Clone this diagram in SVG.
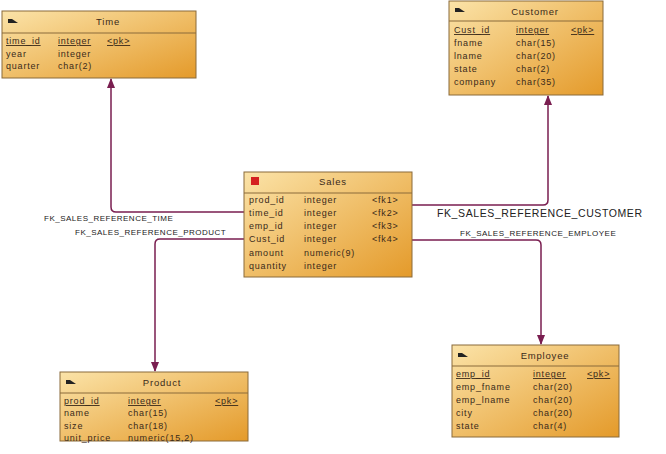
<svg xmlns="http://www.w3.org/2000/svg" width="666" height="454" viewBox="0 0 666 454">
<style>
.box{fill:url(#g);stroke:#8a6a3a;stroke-width:1}
.hl{stroke:#8a6a3a;stroke-width:1}
text{font-family:"Liberation Sans",Arial,sans-serif;font-size:9px;fill:#3a2a1a;letter-spacing:0.8px}
.t{font-size:9.5px;text-anchor:middle}
.u{text-decoration:underline}
.c{fill:none;stroke:#7a1e50;stroke-width:1.5}
.l{font-size:8px;fill:#222;letter-spacing:0.5px}
</style>
<defs>
<linearGradient id="g" x1="0" y1="0" x2="1" y2="1">
<stop offset="0" stop-color="#fbe3a8"/><stop offset="1" stop-color="#e49a2a"/>
</linearGradient>
<marker id="a" markerWidth="10" markerHeight="8" refX="9" refY="4" orient="auto" markerUnits="userSpaceOnUse" viewBox="0 0 10 8">
<path d="M0,0 L10,4 L0,8 Z" fill="#7a1e50"/>
</marker>
</defs>
<g id="connectors">
<path class="c" d="M244,212 H116 Q111,212 111,207 V79" marker-end="url(#a)"/>
<path class="c" d="M244,239 H160 Q155,239 155,244 V371" marker-end="url(#a)"/>
<path class="c" d="M412,205 H543 Q548,205 548,200 V96" marker-end="url(#a)"/>
<path class="c" d="M412,240 H536 Q541,240 541,245 V344" marker-end="url(#a)"/>
<text class="l" x="44" y="221">FK_SALES_REFERENCE_TIME</text>
<text class="l" x="75" y="235">FK_SALES_REFERENCE_PRODUCT</text>
<text class="l" x="437" y="217" style="font-size:10.5px;letter-spacing:0.6px">FK_SALES_REFERENCE_CUSTOMER</text>
<text class="l" x="460" y="236">FK_SALES_REFERENCE_EMPLOYEE</text>
</g>
<g id="time">
<rect class="box" x="2" y="11" width="194" height="67"/>
<line class="hl" x1="2" y1="33" x2="196" y2="33"/>
<path d="M8,19 h4 l6,4 h-10z" fill="#222"/>
<text class="t" x="108" y="25">Time</text>
<text class="u" x="6" y="44">time_id</text><text class="u" x="58" y="44">integer</text><text class="u" x="107" y="44">&lt;pk&gt;</text>
<text x="6" y="57">year</text><text x="58" y="57">integer</text>
<text x="6" y="69">quarter</text><text x="58" y="69">char(2)</text>
</g>
<g id="customer">
<rect class="box" x="449" y="1" width="154" height="94"/>
<line class="hl" x1="449" y1="21" x2="603" y2="21"/>
<path d="M455,8 h4 l6,4 h-10z" fill="#222"/>
<text class="t" x="535" y="15">Customer</text>
<text class="u" x="454" y="33">Cust_id</text><text class="u" x="516" y="33">integer</text><text class="u" x="571" y="33">&lt;pk&gt;</text>
<text x="454" y="46">fname</text><text x="516" y="46">char(15)</text>
<text x="454" y="59">lname</text><text x="516" y="59">char(20)</text>
<text x="454" y="72">state</text><text x="516" y="72">char(2)</text>
<text x="454" y="85">company</text><text x="516" y="85">char(35)</text>
</g>
<g id="sales">
<rect class="box" x="244" y="172" width="168" height="105"/>
<line class="hl" x1="244" y1="193" x2="412" y2="193"/>
<rect x="251" y="177" width="8" height="8" fill="#d42020"/>
<text class="t" x="333" y="185">Sales</text>
<text x="249" y="203">prod_id</text><text x="304" y="203">integer</text><text x="372" y="203">&lt;fk1&gt;</text>
<text x="249" y="216">time_id</text><text x="304" y="216">integer</text><text x="372" y="216">&lt;fk2&gt;</text>
<text x="249" y="229">emp_id</text><text x="304" y="229">integer</text><text x="372" y="229">&lt;fk3&gt;</text>
<text x="249" y="242">Cust_id</text><text x="304" y="242">integer</text><text x="372" y="242">&lt;fk4&gt;</text>
<text x="249" y="256">amount</text><text x="304" y="256">numeric(9)</text>
<text x="249" y="269">quantity</text><text x="304" y="269">integer</text>
</g>
<g id="product">
<rect class="box" x="60" y="372" width="188" height="69"/>
<line class="hl" x1="60" y1="393" x2="248" y2="393"/>
<path d="M66,380 h4 l6,4 h-10z" fill="#222"/>
<text class="t" x="162" y="386">Product</text>
<text class="u" x="64" y="404">prod_id</text><text class="u" x="128" y="404">integer</text><text class="u" x="215" y="404">&lt;pk&gt;</text>
<text x="64" y="416">name</text><text x="128" y="416">char(15)</text>
<text x="64" y="429">size</text><text x="128" y="429">char(18)</text>
<text x="64" y="441">unit_price</text><text x="128" y="441">numeric(15,2)</text>
</g>
<g id="employee">
<rect class="box" x="452" y="345" width="167" height="92"/>
<line class="hl" x1="452" y1="366" x2="619" y2="366"/>
<path d="M458,353 h4 l6,4 h-10z" fill="#222"/>
<text class="t" x="545" y="359">Employee</text>
<text class="u" x="456" y="377">emp_id</text><text class="u" x="533" y="377">integer</text><text class="u" x="587" y="377">&lt;pk&gt;</text>
<text x="456" y="390">emp_fname</text><text x="533" y="390">char(20)</text>
<text x="456" y="403">emp_lname</text><text x="533" y="403">char(20)</text>
<text x="456" y="416">city</text><text x="533" y="416">char(20)</text>
<text x="456" y="429">state</text><text x="533" y="429">char(4)</text>
</g>
</svg>
